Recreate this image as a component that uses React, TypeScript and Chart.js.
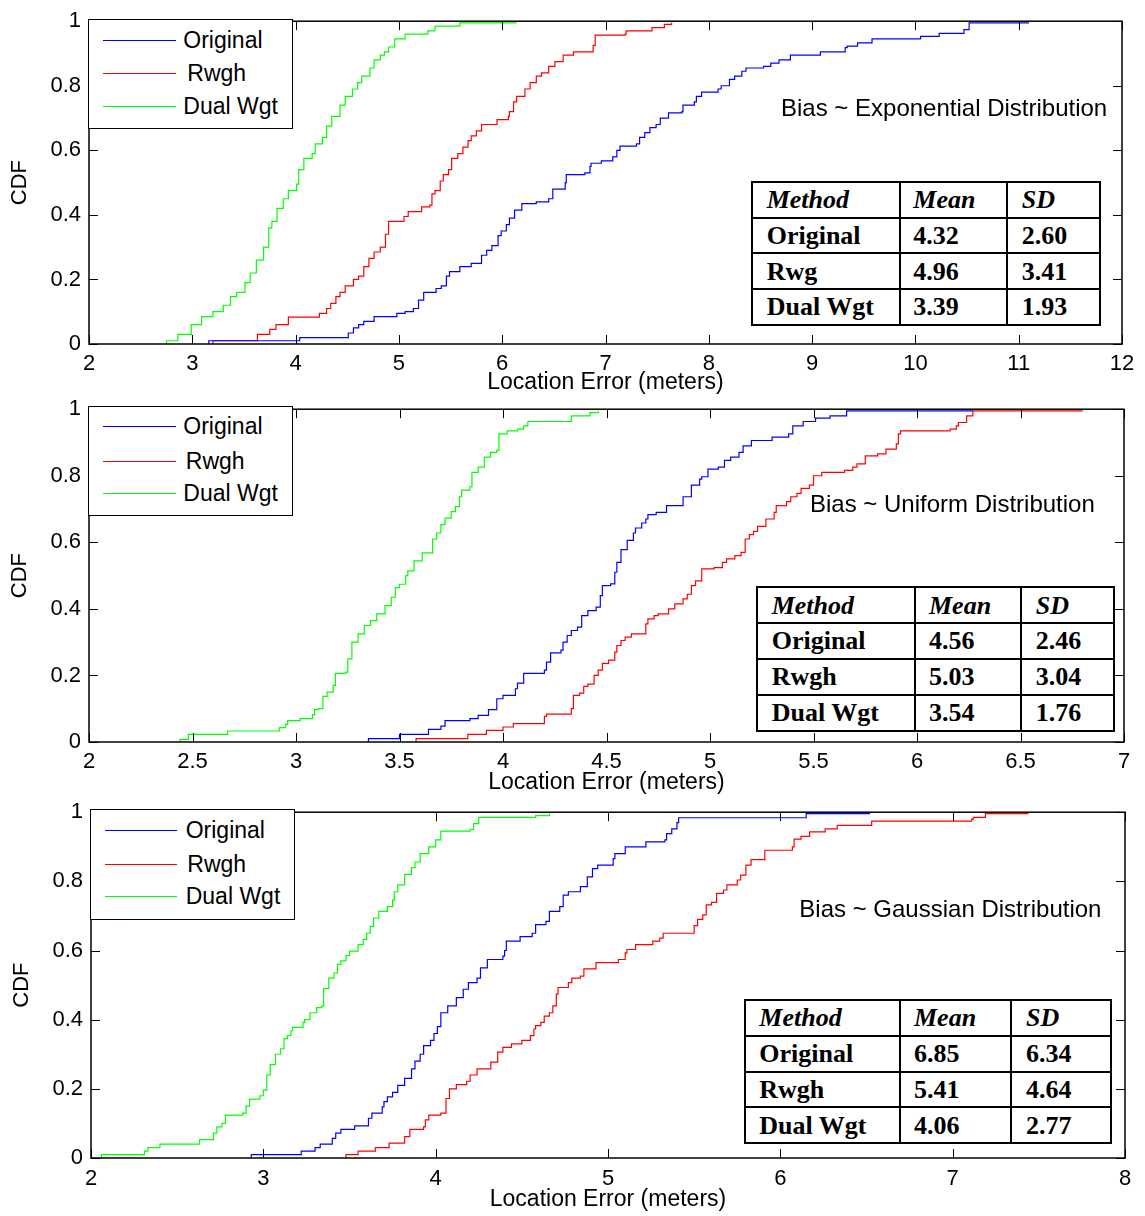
import React, { useEffect, useRef } from 'react';
import { Chart, registerables } from 'chart.js';

Chart.register(...registerables);

// ---------------- DATA ----------------
// Panel 1: Bias ~ Exponential Distribution
const expOriginalX = [3.16, 3.16, 4.04, 4.51, 4.56, 4.61, 4.66, 4.76, 4.98, 5.06, 5.14, 5.19, 5.24, 5.36, 5.41, 5.46, 5.49, 5.59, 5.70, 5.80, 5.85, 5.90, 5.96, 5.99, 6.04, 6.07, 6.12, 6.19, 6.33, 6.45, 6.49, 6.61, 6.62, 6.80, 6.85, 6.86, 6.96, 7.07, 7.11, 7.14, 7.30, 7.33, 7.38, 7.43, 7.49, 7.53, 7.61, 7.74, 7.75, 7.86, 7.88, 7.93, 8.09, 8.12, 8.20, 8.25, 8.32, 8.36, 8.53, 8.60, 8.68, 8.79, 9.08, 9.32, 9.34, 9.44, 9.58, 10.05, 10.23, 10.47, 10.52, 11.10];
const expOriginalF = [0, 0.01, 0.02, 0.034, 0.05, 0.06, 0.07, 0.085, 0.095, 0.10, 0.11, 0.136, 0.16, 0.172, 0.18, 0.21, 0.224, 0.24, 0.25, 0.275, 0.29, 0.305, 0.336, 0.35, 0.37, 0.39, 0.415, 0.435, 0.44, 0.45, 0.48, 0.50, 0.525, 0.53, 0.55, 0.56, 0.567, 0.58, 0.60, 0.613, 0.62, 0.64, 0.655, 0.67, 0.68, 0.70, 0.716, 0.72, 0.74, 0.75, 0.767, 0.78, 0.79, 0.80, 0.82, 0.83, 0.845, 0.855, 0.86, 0.87, 0.88, 0.895, 0.905, 0.918, 0.923, 0.933, 0.945, 0.953, 0.962, 0.974, 0.995, 0.995];
const expRwghX = [3.20, 3.20, 3.63, 3.75, 3.81, 3.93, 4.23, 4.30, 4.34, 4.39, 4.43, 4.48, 4.56, 4.61, 4.66, 4.71, 4.76, 4.82, 4.87, 4.90, 5.05, 5.09, 5.22, 5.30, 5.32, 5.35, 5.40, 5.43, 5.48, 5.51, 5.57, 5.62, 5.67, 5.70, 5.75, 5.80, 5.95, 6.06, 6.07, 6.11, 6.14, 6.22, 6.27, 6.33, 6.38, 6.45, 6.51, 6.59, 6.69, 6.88, 6.90, 7.19, 7.20, 7.45, 7.57, 7.64];
const expRwghF = [0, 0.01, 0.03, 0.045, 0.06, 0.083, 0.095, 0.11, 0.126, 0.147, 0.16, 0.18, 0.20, 0.21, 0.24, 0.265, 0.285, 0.30, 0.34, 0.38, 0.395, 0.41, 0.425, 0.43, 0.465, 0.475, 0.505, 0.525, 0.54, 0.575, 0.59, 0.61, 0.63, 0.645, 0.66, 0.68, 0.695, 0.705, 0.72, 0.75, 0.767, 0.79, 0.81, 0.83, 0.84, 0.86, 0.875, 0.895, 0.905, 0.925, 0.957, 0.96, 0.97, 0.98, 0.99, 0.995];
const expDualX = [2.75, 2.75, 2.86, 2.99, 3.09, 3.20, 3.30, 3.37, 3.43, 3.51, 3.56, 3.62, 3.69, 3.74, 3.77, 3.82, 3.88, 3.93, 4.01, 4.03, 4.08, 4.16, 4.19, 4.26, 4.30, 4.35, 4.43, 4.48, 4.55, 4.60, 4.64, 4.72, 4.76, 4.82, 4.86, 4.90, 4.96, 5.06, 5.28, 5.35, 5.59, 6.14];
const expDualF = [0, 0.01, 0.03, 0.06, 0.085, 0.10, 0.12, 0.147, 0.16, 0.19, 0.22, 0.26, 0.30, 0.36, 0.38, 0.42, 0.45, 0.475, 0.495, 0.54, 0.575, 0.59, 0.62, 0.64, 0.675, 0.705, 0.74, 0.767, 0.79, 0.81, 0.83, 0.855, 0.88, 0.895, 0.905, 0.92, 0.945, 0.96, 0.97, 0.985, 0.995, 0.995];

// Panel 2: Bias ~ Uniform Distribution
const uniOriginalX = [3.35, 3.35, 3.50, 3.64, 3.70, 3.72, 3.84, 3.88, 3.93, 3.97, 4.00, 4.06, 4.07, 4.10, 4.20, 4.21, 4.23, 4.28, 4.29, 4.31, 4.33, 4.36, 4.38, 4.41, 4.45, 4.47, 4.48, 4.52, 4.54, 4.55, 4.57, 4.60, 4.63, 4.64, 4.67, 4.69, 4.70, 4.74, 4.79, 4.87, 4.91, 4.95, 4.96, 4.99, 5.04, 5.07, 5.10, 5.14, 5.16, 5.20, 5.30, 5.38, 5.40, 5.45, 5.51, 5.58, 5.66, 6.27];
const uniOriginalF = [0, 0.01, 0.023, 0.038, 0.048, 0.064, 0.07, 0.08, 0.097, 0.13, 0.14, 0.16, 0.177, 0.206, 0.216, 0.24, 0.268, 0.276, 0.30, 0.32, 0.335, 0.345, 0.38, 0.395, 0.405, 0.44, 0.47, 0.475, 0.51, 0.54, 0.578, 0.606, 0.628, 0.643, 0.658, 0.67, 0.683, 0.69, 0.71, 0.737, 0.772, 0.79, 0.797, 0.82, 0.826, 0.846, 0.856, 0.87, 0.89, 0.906, 0.916, 0.926, 0.95, 0.963, 0.973, 0.98, 0.995, 0.995];
const uniRwghX = [3.58, 3.58, 3.83, 3.92, 4.00, 4.05, 4.20, 4.21, 4.33, 4.34, 4.37, 4.39, 4.41, 4.44, 4.46, 4.48, 4.51, 4.54, 4.55, 4.57, 4.59, 4.62, 4.69, 4.70, 4.73, 4.75, 4.80, 4.83, 4.87, 4.89, 4.91, 4.93, 4.96, 5.02, 5.06, 5.08, 5.12, 5.15, 5.17, 5.19, 5.21, 5.23, 5.27, 5.31, 5.32, 5.37, 5.39, 5.42, 5.44, 5.48, 5.50, 5.54, 5.65, 5.69, 5.71, 5.75, 5.81, 5.85, 5.90, 5.91, 5.92, 6.16, 6.19, 6.20, 6.24, 6.27, 6.80];
const uniRwghF = [0, 0.01, 0.023, 0.035, 0.045, 0.055, 0.077, 0.084, 0.10, 0.14, 0.147, 0.167, 0.174, 0.20, 0.216, 0.236, 0.246, 0.27, 0.29, 0.305, 0.315, 0.325, 0.355, 0.37, 0.38, 0.385, 0.40, 0.415, 0.43, 0.444, 0.47, 0.484, 0.52, 0.524, 0.54, 0.55, 0.56, 0.57, 0.61, 0.623, 0.633, 0.648, 0.67, 0.69, 0.71, 0.722, 0.737, 0.747, 0.762, 0.772, 0.80, 0.81, 0.816, 0.826, 0.836, 0.86, 0.866, 0.88, 0.896, 0.926, 0.935, 0.94, 0.95, 0.96, 0.98, 0.995, 0.995];
const uniDualX = [2.44, 2.44, 2.48, 2.67, 2.92, 2.95, 2.96, 3.02, 3.08, 3.09, 3.11, 3.13, 3.15, 3.18, 3.19, 3.24, 3.25, 3.27, 3.30, 3.33, 3.36, 3.39, 3.43, 3.46, 3.48, 3.50, 3.53, 3.54, 3.57, 3.61, 3.66, 3.68, 3.70, 3.72, 3.75, 3.77, 3.79, 3.80, 3.84, 3.85, 3.88, 3.91, 3.94, 3.97, 3.98, 4.02, 4.07, 4.10, 4.12, 4.33, 4.42, 4.46];
const uniDualF = [0, 0.008, 0.023, 0.033, 0.043, 0.053, 0.064, 0.07, 0.082, 0.097, 0.10, 0.137, 0.15, 0.17, 0.206, 0.21, 0.25, 0.30, 0.325, 0.35, 0.365, 0.385, 0.41, 0.435, 0.464, 0.474, 0.50, 0.514, 0.544, 0.568, 0.61, 0.628, 0.653, 0.673, 0.692, 0.707, 0.737, 0.757, 0.767, 0.81, 0.826, 0.856, 0.87, 0.876, 0.926, 0.935, 0.94, 0.95, 0.963, 0.98, 0.99, 0.995];

// Panel 3: Bias ~ Gaussian Distribution
const gauOriginalX = [2.93, 2.93, 3.22, 3.30, 3.33, 3.40, 3.42, 3.45, 3.53, 3.61, 3.63, 3.69, 3.70, 3.72, 3.75, 3.78, 3.82, 3.86, 3.88, 3.91, 3.93, 3.97, 3.99, 4.01, 4.03, 4.07, 4.12, 4.16, 4.19, 4.24, 4.26, 4.30, 4.39, 4.40, 4.41, 4.49, 4.56, 4.58, 4.64, 4.66, 4.72, 4.74, 4.77, 4.84, 4.88, 4.91, 4.94, 5.03, 5.04, 5.10, 5.22, 5.33, 5.34, 5.37, 5.40, 5.41, 6.15, 6.52];
const gauOriginalF = [0, 0.01, 0.02, 0.03, 0.04, 0.057, 0.072, 0.083, 0.093, 0.115, 0.13, 0.148, 0.163, 0.177, 0.19, 0.21, 0.23, 0.258, 0.28, 0.30, 0.325, 0.34, 0.36, 0.38, 0.42, 0.44, 0.464, 0.488, 0.507, 0.52, 0.55, 0.574, 0.584, 0.60, 0.627, 0.64, 0.65, 0.675, 0.684, 0.713, 0.727, 0.76, 0.77, 0.785, 0.813, 0.837, 0.847, 0.866, 0.88, 0.90, 0.914, 0.92, 0.938, 0.952, 0.97, 0.984, 0.996, 0.996];
const gauRwghX = [3.48, 3.48, 3.55, 3.65, 3.73, 3.82, 3.85, 3.93, 3.94, 3.96, 4.03, 4.06, 4.08, 4.12, 4.18, 4.20, 4.24, 4.32, 4.36, 4.39, 4.44, 4.50, 4.55, 4.57, 4.58, 4.61, 4.63, 4.66, 4.68, 4.70, 4.71, 4.77, 4.79, 4.84, 4.86, 4.93, 5.06, 5.10, 5.11, 5.16, 5.26, 5.30, 5.32, 5.50, 5.52, 5.55, 5.57, 5.60, 5.63, 5.67, 5.69, 5.75, 5.77, 5.80, 5.83, 5.91, 6.07, 6.08, 6.12, 6.17, 6.26, 6.33, 6.53, 7.11, 7.12, 7.19, 7.44];
const gauRwghF = [0, 0.01, 0.02, 0.03, 0.043, 0.062, 0.083, 0.09, 0.11, 0.124, 0.13, 0.172, 0.20, 0.212, 0.222, 0.24, 0.258, 0.277, 0.306, 0.32, 0.33, 0.34, 0.354, 0.373, 0.383, 0.392, 0.41, 0.42, 0.44, 0.474, 0.493, 0.507, 0.52, 0.526, 0.547, 0.565, 0.574, 0.593, 0.603, 0.617, 0.627, 0.636, 0.65, 0.672, 0.69, 0.703, 0.732, 0.739, 0.765, 0.775, 0.79, 0.804, 0.818, 0.847, 0.863, 0.89, 0.90, 0.922, 0.93, 0.943, 0.952, 0.962, 0.974, 0.98, 0.985, 0.996, 0.996];
const gauDualX = [2.06, 2.06, 2.31, 2.33, 2.40, 2.63, 2.71, 2.73, 2.76, 2.78, 2.88, 2.90, 2.92, 2.98, 3.00, 3.02, 3.04, 3.07, 3.10, 3.12, 3.14, 3.16, 3.17, 3.23, 3.24, 3.27, 3.31, 3.34, 3.35, 3.38, 3.41, 3.43, 3.45, 3.48, 3.50, 3.55, 3.58, 3.60, 3.62, 3.64, 3.67, 3.72, 3.75, 3.76, 3.78, 3.82, 3.86, 3.88, 3.91, 3.96, 4.00, 4.03, 4.20, 4.22, 4.25, 4.58, 4.66];
const gauDualF = [0, 0.01, 0.02, 0.03, 0.04, 0.053, 0.072, 0.09, 0.10, 0.124, 0.13, 0.15, 0.17, 0.18, 0.196, 0.24, 0.27, 0.30, 0.316, 0.345, 0.354, 0.368, 0.378, 0.392, 0.40, 0.42, 0.435, 0.44, 0.49, 0.52, 0.535, 0.56, 0.57, 0.585, 0.598, 0.617, 0.632, 0.65, 0.67, 0.694, 0.713, 0.727, 0.746, 0.77, 0.79, 0.82, 0.84, 0.856, 0.88, 0.90, 0.92, 0.945, 0.95, 0.967, 0.985, 0.99, 0.996];

// Legend labels and table contents
const legendLabels = ['Original', 'Rwgh', 'Dual Wgt'];
const tableHeader = ['Method', 'Mean', 'SD'];
const expTableRows = [['Original', '4.32', '2.60'], ['Rwg', '4.96', '3.41'], ['Dual Wgt', '3.39', '1.93']];
const uniTableRows = [['Original', '4.56', '2.46'], ['Rwgh', '5.03', '3.04'], ['Dual Wgt', '3.54', '1.76']];
const gauTableRows = [['Original', '6.85', '6.34'], ['Rwgh', '5.41', '4.64'], ['Dual Wgt', '4.06', '2.77']];
const annotations = ['Bias ~ Exponential Distribution', 'Bias ~ Uniform Distribution', 'Bias ~ Gaussian Distribution'];

// ---------------- STYLE ----------------
const W = 1145;
const H = 1216;
const SANS = '"Liberation Sans", Arial, Helvetica, sans-serif';
const SERIF = '"Liberation Serif", "Times New Roman", Times, serif';
const COLORS = ['#0000ff', '#ff0000', '#00ff00'];

const zip = (xs: number[], fs: number[]) => xs.map((x, i) => ({ x, y: fs[i] }));

const framePlugin = {
  id: 'matlabFrame',
  afterDatasetsDraw(chart: any) {
    const { ctx, chartArea, scales } = chart;
    const { left, right, top, bottom } = chartArea;
    const tl = 9;
    ctx.save();
    ctx.strokeStyle = '#000';
    ctx.lineWidth = 1.5;
    ctx.strokeRect(left, top, right - left, bottom - top);
    ctx.lineWidth = 1;
    ctx.beginPath();
    scales.x.ticks.forEach((t: any) => {
      const px = Math.round(scales.x.getPixelForValue(t.value)) + 0.5;
      ctx.moveTo(px, bottom);
      ctx.lineTo(px, bottom - tl);
      ctx.moveTo(px, top);
      ctx.lineTo(px, top + tl);
    });
    scales.y.ticks.forEach((t: any) => {
      const py = Math.round(scales.y.getPixelForValue(t.value)) + 0.5;
      ctx.moveTo(left, py);
      ctx.lineTo(left + tl, py);
      ctx.moveTo(right, py);
      ctx.lineTo(right - tl, py);
    });
    ctx.stroke();
    ctx.restore();
  },
};

type PanelCfg = {
  canvasTop: number;
  padTop: number;
  plotH: number;
  axisH: number;
  plotLeft: number;
  plotRight: number;
  xMin: number;
  xMax: number;
  xStep: number;
  xTickPad: number;
  yTitlePad: number;
  series: { xs: number[]; fs: number[] }[];
};

const fmt = (v: any) => String(+Number(v).toFixed(3));

function ChartPanel({ cfg }: { cfg: PanelCfg }) {
  const ref = useRef<HTMLCanvasElement>(null);
  const height = cfg.padTop + cfg.plotH + cfg.axisH;
  useEffect(() => {
    if (!ref.current) return;
    const chart = new Chart(ref.current, {
      type: 'line',
      data: {
        datasets: cfg.series.map((s, i) => ({
          label: legendLabels[i],
          data: zip(s.xs, s.fs),
          borderColor: COLORS[i],
          backgroundColor: COLORS[i],
          borderWidth: 1.2,
          pointRadius: 0,
          stepped: 'before' as const,
          fill: false,
          tension: 0,
        })),
      },
      options: {
        animation: false,
        responsive: false,
        maintainAspectRatio: false,
        events: [],
        layout: { padding: { top: cfg.padTop, left: 0, right: W - cfg.plotRight, bottom: 0 } },
        plugins: { legend: { display: false }, tooltip: { enabled: false } },
        scales: {
          x: {
            type: 'linear',
            min: cfg.xMin,
            max: cfg.xMax,
            grid: { display: false, drawTicks: false },
            border: { display: false },
            ticks: {
              stepSize: cfg.xStep,
              autoSkip: false,
              maxRotation: 0,
              padding: cfg.xTickPad,
              color: '#000',
              font: { family: SANS, size: 22 },
              callback: fmt,
            },
            title: {
              display: true,
              text: 'Location Error (meters)',
              color: '#000',
              font: { family: SANS, size: 23 },
              padding: { top: 0, bottom: 0 },
            },
            afterFit: (s: any) => {
              s.height = cfg.axisH;
            },
          },
          y: {
            type: 'linear',
            min: 0,
            max: 1,
            grid: { display: false, drawTicks: false },
            border: { display: false },
            ticks: {
              stepSize: 0.2,
              padding: 8,
              color: '#000',
              font: { family: SANS, size: 22 },
              callback: fmt,
            },
            title: {
              display: true,
              text: 'CDF',
              color: '#000',
              font: { family: SANS, size: 22 },
              padding: { top: cfg.yTitlePad, bottom: 0 },
            },
            afterFit: (s: any) => {
              s.width = cfg.plotLeft;
            },
          },
        },
      } as any,
      plugins: [framePlugin],
    });
    return () => chart.destroy();
  }, []);
  return (
    <canvas
      ref={ref}
      width={W}
      height={height}
      style={{ position: 'absolute', left: 0, top: cfg.canvasTop, width: W, height }}
    />
  );
}

type LegendCfg = {
  left: number; top: number; right: number; bottom: number;
  lineX1: number; lineX2: number; textX: number; rwghDx: number;
  lineYs: number[];
};

function Legend({ c }: { c: LegendCfg }) {
  return (
    <>
      <div
        style={{
          position: 'absolute', left: c.left - 0.75, top: c.top - 0.75,
          width: c.right - c.left + 1.5, height: c.bottom - c.top + 1.5,
          border: '1.5px solid #000', boxSizing: 'border-box', background: '#fff',
        }}
      />
      {legendLabels.map((lab, i) => (
        <React.Fragment key={lab}>
          <div
            style={{
              position: 'absolute', left: Math.round(c.lineX1), top: Math.round(c.lineYs[i]),
              width: Math.round(c.lineX2 - c.lineX1), height: 1, background: COLORS[i],
            }}
          />
          <div
            style={{
              position: 'absolute', left: c.textX + (i === 1 ? c.rwghDx : 0),
              top: c.lineYs[i] + 8 - 19.5, fontFamily: SANS, fontSize: 23,
              lineHeight: '23px', whiteSpace: 'pre', color: '#000',
            }}
          >
            {lab}
          </div>
        </React.Fragment>
      ))}
    </>
  );
}

type TableCfg = {
  x0: number; x1: number; y0: number; y1: number;
  cols: number[]; textX: number[]; rows: string[][];
};

function StatTable({ t }: { t: TableCfg }) {
  const rh = (t.y1 - t.y0) / 4;
  const allRows = [tableHeader, ...t.rows];
  return (
    <>
      <div
        style={{
          position: 'absolute', left: t.x0 - 1, top: t.y0 - 1,
          width: t.x1 - t.x0 + 2, height: t.y1 - t.y0 + 2,
          border: '2px solid #000', boxSizing: 'border-box', background: '#fff',
        }}
      />
      {[1, 2, 3].map((r) => (
        <div key={'h' + r} style={{ position: 'absolute', left: t.x0, top: t.y0 + r * rh - 1, width: t.x1 - t.x0, height: 2, background: '#000' }} />
      ))}
      {t.cols.map((cx, i) => (
        <div key={'v' + i} style={{ position: 'absolute', left: cx - 1, top: t.y0, width: 2, height: t.y1 - t.y0, background: '#000' }} />
      ))}
      {allRows.map((row, r) =>
        row.map((cell, ci) => (
          <div
            key={r + '-' + ci}
            style={{
              position: 'absolute', left: t.textX[ci], top: t.y0 + r * rh + 27 - 21.8,
              fontFamily: SERIF, fontSize: 26, lineHeight: '26px', fontWeight: 'bold',
              fontStyle: r === 0 ? 'italic' : 'normal', whiteSpace: 'pre', color: '#000',
            }}
          >
            {cell}
          </div>
        ))
      )}
    </>
  );
}

function Note({ text, left, baseline }: { text: string; left: number; baseline: number }) {
  return (
    <div
      style={{
        position: 'absolute', left, top: baseline - 20.3, fontFamily: SANS,
        fontSize: 24, lineHeight: '24px', whiteSpace: 'pre', color: '#000',
      }}
    >
      {text}
    </div>
  );
}

const panels: PanelCfg[] = [
  {
    canvasTop: 0, padTop: 19, plotH: 325, axisH: 52, plotLeft: 89, plotRight: 1122,
    xMin: 2, xMax: 12, xStep: 1, xTickPad: 7, yTitlePad: 7,
    series: [
      { xs: expOriginalX, fs: expOriginalF },
      { xs: expRwghX, fs: expRwghF },
      { xs: expDualX, fs: expDualF },
    ],
  },
  {
    canvasTop: 388, padTop: 19, plotH: 335, axisH: 54, plotLeft: 89, plotRight: 1124,
    xMin: 2, xMax: 7, xStep: 0.5, xTickPad: 7, yTitlePad: 7,
    series: [
      { xs: uniOriginalX, fs: uniOriginalF },
      { xs: uniRwghX, fs: uniRwghF },
      { xs: uniDualX, fs: uniDualF },
    ],
  },
  {
    canvasTop: 791, padTop: 19, plotH: 348, axisH: 55, plotLeft: 91, plotRight: 1125,
    xMin: 2, xMax: 8, xStep: 1, xTickPad: 8, yTitlePad: 9,
    series: [
      { xs: gauOriginalX, fs: gauOriginalF },
      { xs: gauRwghX, fs: gauRwghF },
      { xs: gauDualX, fs: gauDualF },
    ],
  },
];

const legends: LegendCfg[] = [
  { left: 88.7, top: 19.3, right: 292.3, bottom: 128.3, lineX1: 103, lineX2: 176, textX: 183.3, rwghDx: 4, lineYs: [40, 73, 106] },
  { left: 88.7, top: 406.7, right: 292.3, bottom: 515.7, lineX1: 103, lineX2: 176, textX: 183.3, rwghDx: 2.5, lineYs: [426, 461, 493] },
  { left: 90.7, top: 810, right: 294, bottom: 919, lineX1: 105, lineX2: 177, textX: 185.7, rwghDx: 1.6, lineYs: [830, 864, 896] },
];

const tables: TableCfg[] = [
  { x0: 752.3, x1: 1100, y0: 181.7, y1: 325, cols: [900, 1007.3], textX: [766.7, 913.3, 1021.7], rows: expTableRows },
  { x0: 756.7, x1: 1114, y0: 587.3, y1: 730.7, cols: [915, 1021], textX: [771.7, 929, 1035.7], rows: uniTableRows },
  { x0: 745, x1: 1110.7, y0: 1000, y1: 1143.3, cols: [900, 1010.7], textX: [759.3, 914, 1026], rows: gauTableRows },
];

const notes = [
  { left: 781, baseline: 116.7 },
  { left: 810, baseline: 512.3 },
  { left: 799.3, baseline: 917.7 },
];

export default function App() {
  return (
    <div style={{ position: 'absolute', left: 0, top: 0, width: W, height: H, background: '#fff', overflow: 'hidden' }}>
      {panels.map((p, i) => (
        <ChartPanel key={i} cfg={p} />
      ))}
      {legends.map((l, i) => (
        <Legend key={'l' + i} c={l} />
      ))}
      {tables.map((t, i) => (
        <StatTable key={'t' + i} t={t} />
      ))}
      {notes.map((n, i) => (
        <Note key={'n' + i} text={annotations[i]} left={n.left} baseline={n.baseline} />
      ))}
    </div>
  );
}
